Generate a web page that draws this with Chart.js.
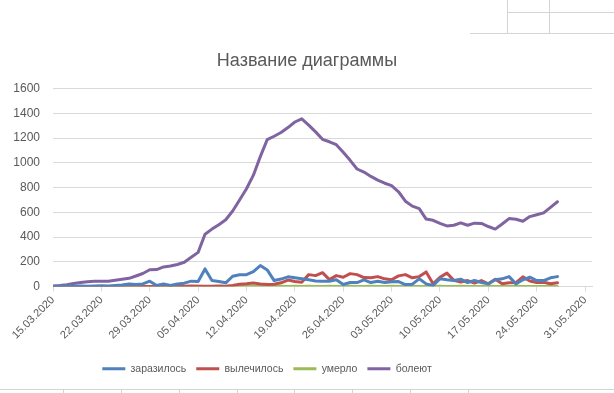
<!DOCTYPE html>
<html>
<head>
<meta charset="utf-8">
<script src="https://cdn.jsdelivr.net/npm/chart.js@4/dist/chart.umd.min.js"></script>
<style>
html,body{margin:0;padding:0;background:#fff;}
#wrap{position:relative;width:614px;height:393px;}
canvas{position:absolute;left:0;top:0;}
.ln{position:absolute;background:#d4d4d4;}
</style>
</head>
<body>
<div id="wrap">
<canvas id="c" width="614" height="393"></canvas>
<div class="ln" style="left:470px;top:33px;width:144px;height:1px"></div>
<div class="ln" style="left:507px;top:0;width:1px;height:33px"></div>
<div class="ln" style="left:549px;top:0;width:1px;height:33px"></div>
<div class="ln" style="left:507px;top:12px;width:107px;height:1px"></div>
<div class="ln" style="left:0;top:389px;width:614px;height:1px"></div>
<div class="ln" style="left:63px;top:389px;width:1px;height:4px"></div>
<div class="ln" style="left:121px;top:389px;width:1px;height:4px"></div>
<div class="ln" style="left:179px;top:389px;width:1px;height:4px"></div>
<div class="ln" style="left:237px;top:389px;width:1px;height:4px"></div>
<div class="ln" style="left:294px;top:389px;width:1px;height:4px"></div>
<div class="ln" style="left:352px;top:389px;width:1px;height:4px"></div>
<div class="ln" style="left:410px;top:389px;width:1px;height:4px"></div>
<div class="ln" style="left:468px;top:389px;width:1px;height:4px"></div>
</div>
<script>
// Dates (one per day of data, 15.03.2020 .. 27.05.2020)
const dates = [
 '15.03.2020','16.03.2020','17.03.2020','18.03.2020','19.03.2020','20.03.2020','21.03.2020',
 '22.03.2020','23.03.2020','24.03.2020','25.03.2020','26.03.2020','27.03.2020','28.03.2020',
 '29.03.2020','30.03.2020','31.03.2020','01.04.2020','02.04.2020','03.04.2020','04.04.2020',
 '05.04.2020','06.04.2020','07.04.2020','08.04.2020','09.04.2020','10.04.2020','11.04.2020',
 '12.04.2020','13.04.2020','14.04.2020','15.04.2020','16.04.2020','17.04.2020','18.04.2020',
 '19.04.2020','20.04.2020','21.04.2020','22.04.2020','23.04.2020','24.04.2020','25.04.2020',
 '26.04.2020','27.04.2020','28.04.2020','29.04.2020','30.04.2020','01.05.2020','02.05.2020',
 '03.05.2020','04.05.2020','05.05.2020','06.05.2020','07.05.2020','08.05.2020','09.05.2020',
 '10.05.2020','11.05.2020','12.05.2020','13.05.2020','14.05.2020','15.05.2020','16.05.2020',
 '17.05.2020','18.05.2020','19.05.2020','20.05.2020','21.05.2020','22.05.2020','23.05.2020',
 '24.05.2020','25.05.2020','26.05.2020','27.05.2020'
];
// Axis tick labels (every 7 days)
const xTickLabels = ['15.03.2020','22.03.2020','29.03.2020','05.04.2020','12.04.2020','19.04.2020',
 '26.04.2020','03.05.2020','10.05.2020','17.05.2020','24.05.2020','31.05.2020'];
const yTicks = [0,200,400,600,800,1000,1200,1400,1600];

const infected = [0,2,3,2,5,3,4,6,5,8,12,20,16,21,43,8,21,8,21,27,43,40,142,48,40,30,83,95,96,120,
 169,134,48,60,78,70,62,54,45,43,43,54,16,32,32,54,32,43,32,38,40,16,19,62,21,8,62,54,48,59,
 32,48,32,21,54,62,80,21,54,75,48,48,70,80];
const recovered = [0,0,0,0,0,0,0,0,0,0,0,0,0,0,0,0,0,0,1,3,5,3,2,3,4,3,8,18,22,28,
 20,16,18,30,52,40,35,96,88,112,56,88,75,104,96,72,70,80,62,54,86,96,70,80,118,22,75,108,50,36,
 48,28,48,22,58,22,30,32,78,45,32,35,22,30];
const died = [0,0,0,0,0,0,0,0,0,0,0,0,0,1,0,0,1,0,1,0,1,2,1,0,1,1,2,1,2,1,
 2,1,1,2,1,2,1,2,1,1,2,1,1,2,1,1,2,1,1,2,1,1,2,1,1,1,2,1,1,2,
 1,1,1,2,1,1,1,2,1,1,1,1,2,1];
const sick = [3,8,15,24,32,38,42,43,43,50,58,66,85,105,135,137,158,166,178,196,236,276,423,464,500,540,610,700,790,900,
 1050,1187,1215,1245,1285,1330,1356,1305,1250,1190,1170,1147,1085,1020,950,925,890,860,835,815,766,690,650,630,545,535,510,490,495,515,
 495,512,510,485,464,505,549,544,528,565,580,595,640,685];

const seriesNames = ['заразилось','вылечилось','умерло','болеют'];
const seriesColors = ['#4F81BD','#C0504D','#9BBB59','#8064A2'];
const seriesData = [infected, recovered, died, sick];

const txt = '#595959';
const fontFam = "'Liberation Sans', Arial, sans-serif";

const datasets = seriesData.map((arr, k) => ({
  label: seriesNames[k],
  data: arr.map((v, i) => ({x: i, y: v})),
  yAxisID: 'y',
  borderColor: seriesColors[k],
  backgroundColor: seriesColors[k],
  borderWidth: 3,
  pointRadius: 0,
  tension: 0,
  fill: false,
  borderJoinStyle: 'round',
  borderCapStyle: 'round'
}));

// Excel places the legend slightly left of centre
const legendShift = {
  id: 'legendShift',
  afterLayout(chart) {
    const lg = chart.legend;
    if (lg) { lg.left -= 40; lg.right -= 40; }
  }
};

new Chart(document.getElementById('c'), {
  type: 'line',
  data: {datasets},
  plugins: [legendShift],
  options: {
    responsive: false,
    animation: false,
    layout: {padding: {left: 0, right: 0, top: 50, bottom: 9}},
    plugins: {
      title: {
        display: true,
        text: 'Название диаграммы',
        color: txt,
        font: {family: fontFam, size: 18, weight: 'normal'},
        padding: {top: 0, bottom: 17}
      },
      legend: {
        position: 'bottom',
        labels: {
          color: txt,
          font: {family: fontFam, size: 10.5},
          usePointStyle: true,
          pointStyle: 'line',
          pointStyleWidth: 23,
          boxHeight: 11,
          padding: 10
        }
      },
      tooltip: {enabled: false}
    },
    scales: {
      x: {
        type: 'linear',
        min: 0,
        max: 78,
        afterFit: s => { s.height = 67; },
        border: {display: true, color: '#d9d9d9', width: 1},
        grid: {drawOnChartArea: false, drawTicks: true, tickLength: 5, color: '#d9d9d9'},
        ticks: {
          stepSize: 7,
          includeBounds: false,
          autoSkip: false,
          minRotation: 45,
          maxRotation: 45,
          color: txt,
          padding: 2,
          font: {family: fontFam, size: 11},
          callback: v => xTickLabels[Math.round(v / 7)]
        }
      },
      y: {
        position: 'left',
        min: yTicks[0],
        max: yTicks[yTicks.length - 1],
        afterFit: s => { s.width = 53; },
        border: {display: false},
        grid: {color: '#d9d9d9', drawTicks: false},
        ticks: {
          stepSize: 200,
          color: txt,
          padding: 13,
          font: {family: fontFam, size: 12},
          callback: v => String(v)
        }
      },
      yRight: {
        position: 'right',
        display: true,
        afterFit: s => { s.width = 22; },
        border: {display: false},
        grid: {display: false, drawTicks: false},
        ticks: {display: false}
      }
    }
  }
});
</script>
</body>
</html>
